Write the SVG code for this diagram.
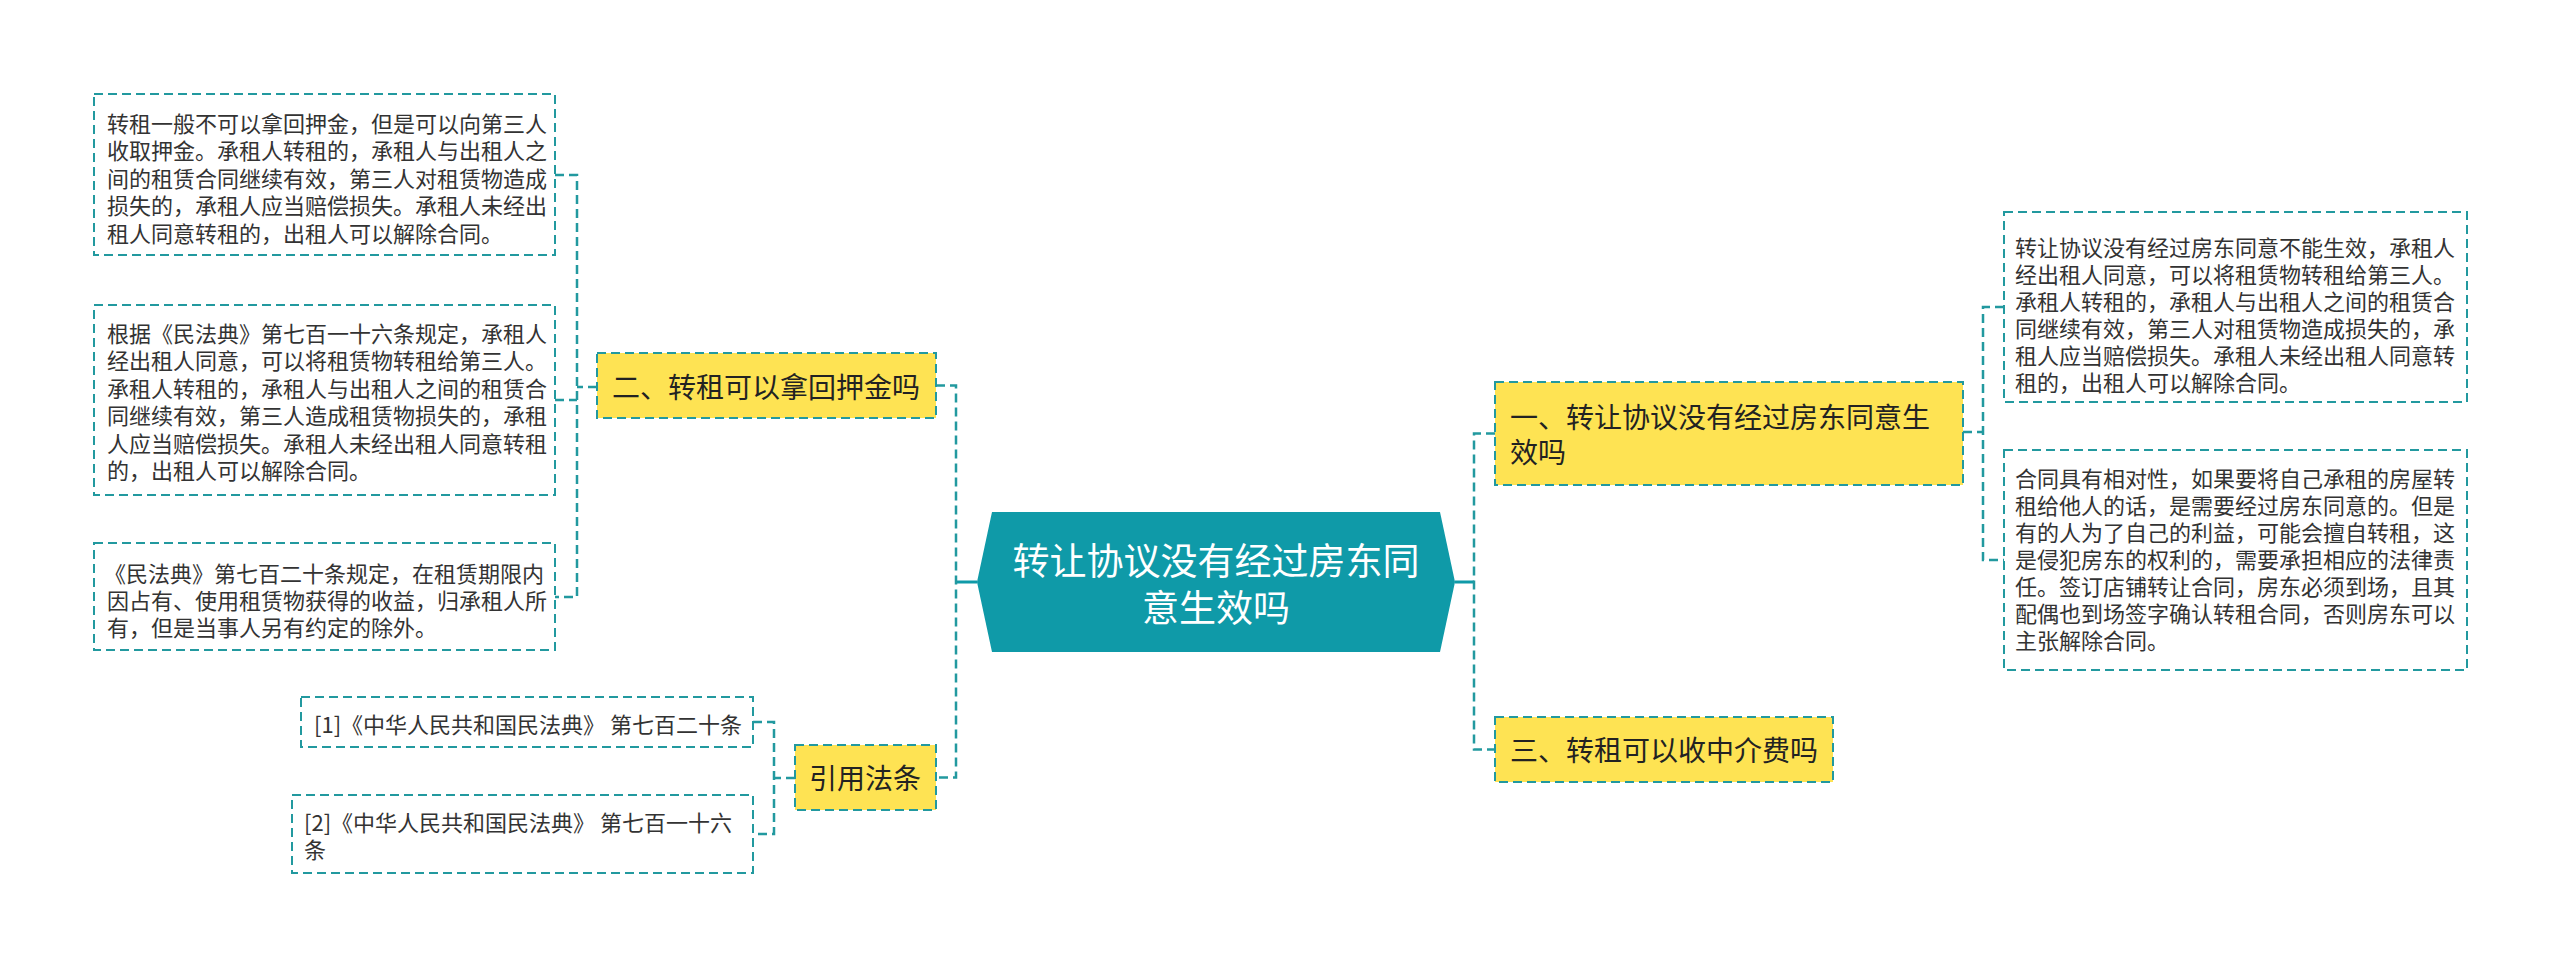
<svg xmlns="http://www.w3.org/2000/svg" width="2560" height="967" viewBox="0 0 2560 967">
<style>
text{font-family:"Noto Sans CJK SC","Noto Sans",sans-serif;fill:#333}
.box{fill:#fff;stroke:#22999f;stroke-width:2;stroke-dasharray:9 5}
.topic{fill:#fee353;stroke:#22999f;stroke-width:2;stroke-dasharray:9 5}
.t22{font-size:22px}
.t28{font-size:28px;fill:#222}
.conn{fill:none;stroke:#22999f;stroke-width:2.5;stroke-dasharray:9 5}
.solid{fill:none;stroke:#0f9aa8;stroke-width:3}
</style>
<rect width="2560" height="967" fill="#fff"/>
<g id="connectors">
<path class="solid" d="M977 582H956M1455 582H1474"/>
<path class="conn" d="M936 385.5H956V777.5H936"/>
<path class="conn" d="M597 387H577M555 175H577V597H555M555 400H577"/>
<path class="conn" d="M795 778H774M753 722H774V834H753"/>
<path class="conn" d="M1495 433.5H1474V749.5H1495"/>
<path class="conn" d="M1963 432H1983M2004 307H1983V560H2004"/>
</g>
<g id="center">
<polygon points="977,582 992,512 1440,512 1455,582 1440,652 992,652" fill="#0f9aa8"/>
<text text-anchor="middle" style="font-size:37px;fill:#fff"><tspan x="1216" y="575">转让协议没有经过房东同</tspan><tspan x="1216" y="622">意生效吗</tspan></text>
</g>
<g id="node-er">
<rect class="topic" x="597" y="353" width="339" height="65"/>
<text class="t28" x="612" y="398">二、转租可以拿回押金吗</text>
</g>
<g id="node-L1">
<rect class="box" x="94" y="94" width="461" height="161"/>
<text class="t22" x="107"><tspan x="107" y="131.5">转租一般不可以拿回押金，但是可以向第三人</tspan><tspan x="107" y="159">收取押金。承租人转租的，承租人与出租人之</tspan><tspan x="107" y="186.5">间的租赁合同继续有效，第三人对租赁物造成</tspan><tspan x="107" y="214">损失的，承租人应当赔偿损失。承租人未经出</tspan><tspan x="107" y="241.5">租人同意转租的，出租人可以解除合同。</tspan></text>
</g>
<g id="node-L2">
<rect class="box" x="94" y="305" width="461" height="190"/>
<text class="t22" x="107"><tspan x="107" y="341.5">根据《民法典》第七百一十六条规定，承租人</tspan><tspan x="107" y="369">经出租人同意，可以将租赁物转租给第三人。</tspan><tspan x="107" y="396.5">承租人转租的，承租人与出租人之间的租赁合</tspan><tspan x="107" y="424">同继续有效，第三人造成租赁物损失的，承租</tspan><tspan x="107" y="451.5">人应当赔偿损失。承租人未经出租人同意转租</tspan><tspan x="107" y="479">的，出租人可以解除合同。</tspan></text>
</g>
<g id="node-L3">
<rect class="box" x="94" y="543" width="461" height="107"/>
<text class="t22" x="107"><tspan x="104" y="581.5">《民法典》第七百二十条规定，在租赁期限内</tspan><tspan x="107" y="608.5">因占有、使用租赁物获得的收益，归承租人所</tspan><tspan x="107" y="635.5">有，但是当事人另有约定的除外。</tspan></text>
</g>
<g id="node-cite">
<rect class="topic" x="795" y="745" width="141" height="65"/>
<text class="t28" x="809" y="789">引用法条</text>
</g>
<g id="node-ref1">
<rect class="box" x="301" y="697" width="452" height="50"/>
<text class="t22" x="314" y="733">[1]《中华人民共和国民法典》 第七百二十条</text>
</g>
<g id="node-ref2">
<rect class="box" x="292" y="795" width="461" height="78"/>
<text class="t22" x="304"><tspan x="304" y="831">[2]《中华人民共和国民法典》 第七百一十六</tspan><tspan x="304" y="858">条</tspan></text>
</g>
<g id="node-yi">
<rect class="topic" x="1495" y="382" width="468" height="103"/>
<text class="t28" x="1510"><tspan x="1510" y="428">一、转让协议没有经过房东同意生</tspan><tspan x="1510" y="463">效吗</tspan></text>
</g>
<g id="node-san">
<rect class="topic" x="1495" y="717" width="338" height="65"/>
<text class="t28" x="1510" y="761">三、转租可以收中介费吗</text>
</g>
<g id="node-R1">
<rect class="box" x="2004" y="212" width="463" height="190"/>
<text class="t22" x="2015"><tspan x="2015" y="255.5">转让协议没有经过房东同意不能生效，承租人</tspan><tspan x="2015" y="282.5">经出租人同意，可以将租赁物转租给第三人。</tspan><tspan x="2015" y="309.5">承租人转租的，承租人与出租人之间的租赁合</tspan><tspan x="2015" y="336.5">同继续有效，第三人对租赁物造成损失的，承</tspan><tspan x="2015" y="363.5">租人应当赔偿损失。承租人未经出租人同意转</tspan><tspan x="2015" y="390.5">租的，出租人可以解除合同。</tspan></text>
</g>
<g id="node-R2">
<rect class="box" x="2004" y="450" width="463" height="220"/>
<text class="t22" x="2015"><tspan x="2015" y="486.5">合同具有相对性，如果要将自己承租的房屋转</tspan><tspan x="2015" y="513.5">租给他人的话，是需要经过房东同意的。但是</tspan><tspan x="2015" y="540.5">有的人为了自己的利益，可能会擅自转租，这</tspan><tspan x="2015" y="567.5">是侵犯房东的权利的，需要承担相应的法律责</tspan><tspan x="2015" y="594.5">任。签订店铺转让合同，房东必须到场，且其</tspan><tspan x="2015" y="621.5">配偶也到场签字确认转租合同，否则房东可以</tspan><tspan x="2015" y="648.5">主张解除合同。</tspan></text>
</g>
</svg>
